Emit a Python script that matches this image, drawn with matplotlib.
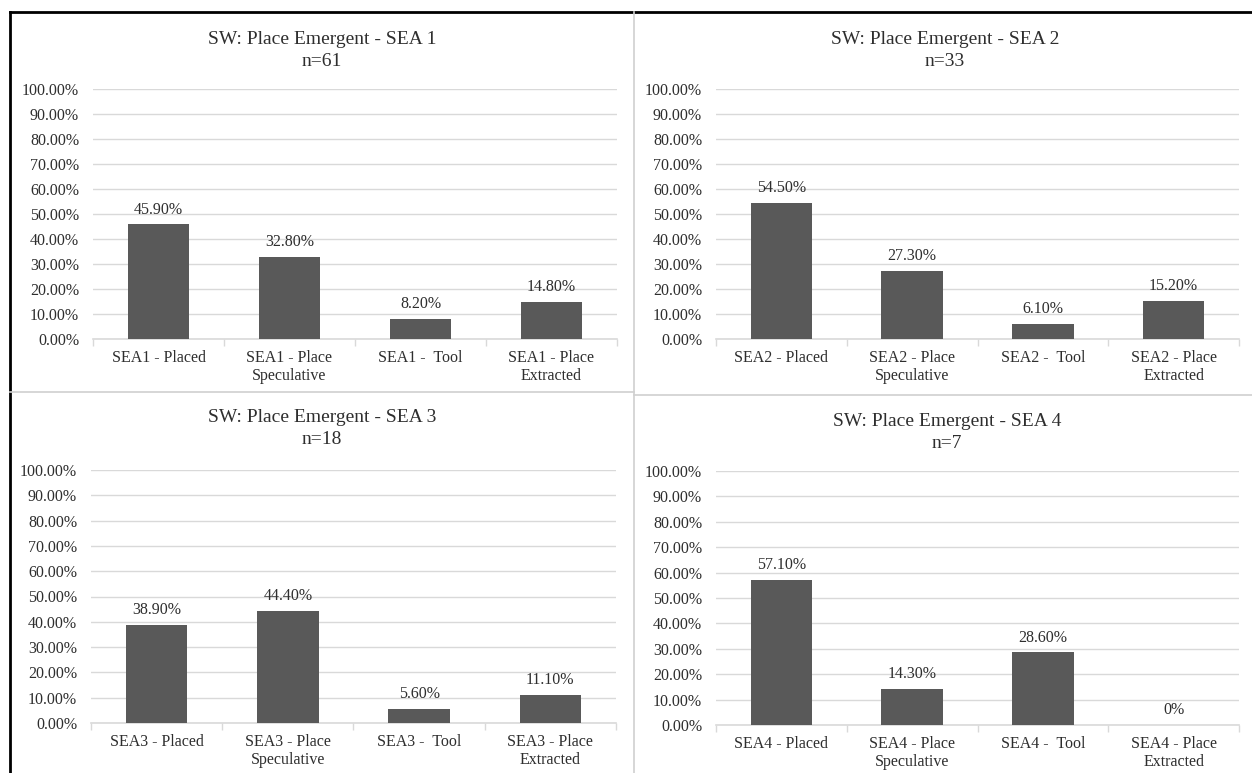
import matplotlib
matplotlib.use("Agg")
import matplotlib.pyplot as plt
from matplotlib.lines import Line2D

plt.rcParams['font.family'] = ['Liberation Serif', 'DejaVu Serif']

W, H = 1252, 773

groups = ["SEA1", "SEA2", "SEA3", "SEA4"]
titles = ["SW: Place Emergent - SEA 1", "SW: Place Emergent - SEA 2",
          "SW: Place Emergent - SEA 3", "SW: Place Emergent - SEA 4"]
sample_sizes = [61, 33, 18, 7]
suffixes = [" - Placed", " - Place\nSpeculative", " -  Tool", " - Place\nExtracted"]

sea1 = [45.9, 32.8, 8.2, 14.8]
sea2 = [54.5, 27.3, 6.1, 15.2]
sea3 = [38.9, 44.4, 5.6, 11.1]
sea4 = [57.1, 14.3, 28.6, 0.0]
values = [sea1, sea2, sea3, sea4]

yticks = [0, 10, 20, 30, 40, 50, 60, 70, 80, 90, 100]

bar_color = "#595959"
grid_color = "#d9d9d9"
text_color = "#2e2e2e"

# plot areas in pixels: (left, top, right, bottom)
boxes = [(93, 89, 617, 339), (716, 89, 1239, 339),
         (91, 470, 616, 723), (716, 471, 1239, 725)]
# title centre x and first-line y for each panel
title_pos = [(322, 39), (945, 39), (322, 418), (947, 421)]

fig = plt.figure(figsize=(W / 100, H / 100), dpi=100)


def px_axes(l, t, r, b):
    return fig.add_axes([l / W, 1 - b / H, (r - l) / W, (b - t) / H])


def px_line(x0, y0, x1, y1, color, lw):
    fig.add_artist(Line2D([x0 / W, x1 / W], [1 - y0 / H, 1 - y1 / H],
                          color=color, lw=lw, transform=fig.transFigure))


for i, (l, t, r, b) in enumerate(boxes):
    ax = px_axes(l, t, r, b)
    vals = values[i]
    x = list(range(len(vals)))
    ax.bar(x, vals, width=0.47, color=bar_color, zorder=3)
    for xi, v in zip(x, vals):
        lab = "0%" if v == 0 else f"{v:.2f}%"
        ax.annotate(lab, (xi, v), xytext=(0, 10.5), textcoords="offset points",
                    ha="center", va="center", fontsize=11.5, color=text_color)
    ax.set_xlim(-0.5, len(vals) - 0.5)
    ax.set_ylim(0, 100)
    ax.set_yticks(yticks)
    ax.set_yticklabels([f"{v:.2f}%" for v in yticks])
    ax.yaxis.grid(True, color=grid_color, lw=1, zorder=0)
    ax.set_axisbelow(True)
    for s in ["top", "right", "left"]:
        ax.spines[s].set_visible(False)
    ax.spines["bottom"].set_color(grid_color)
    ax.spines["bottom"].set_linewidth(1.2)
    ax.tick_params(axis="y", length=0, pad=10, labelsize=11.5, labelcolor=text_color)
    # category boundaries carry the small tick marks
    ax.set_xticks([k - 0.5 for k in range(len(vals) + 1)])
    ax.set_xticklabels([])
    ax.tick_params(axis="x", which="major", length=5, color=grid_color, width=1)
    ax.set_xticks(x, minor=True)
    ax.set_xticklabels([groups[i] + s for s in suffixes], minor=True,
                       linespacing=1.15)
    ax.tick_params(axis="x", which="minor", length=0, pad=8, labelsize=11.5,
                   labelcolor=text_color)

    tx, ty = title_pos[i]
    fig.text(tx / W, 1 - ty / H, titles[i], ha="center", va="center",
             fontsize=14, color=text_color)
    fig.text(tx / W, 1 - (ty + 22) / H, f"n={sample_sizes[i]}", ha="center",
             va="center", fontsize=14, color=text_color)

# panel frames
px_line(10, 12, W, 12, "black", 2.0)
px_line(10, 12, 10, H, "black", 2.0)
px_line(634, 12, 634, H, "#d0d0d0", 1.2)
px_line(10, 392, 634, 392, "#d0d0d0", 1.2)
px_line(634, 395, W, 395, "#d0d0d0", 1.2)

fig.savefig("out.png", dpi=100, facecolor="white")
